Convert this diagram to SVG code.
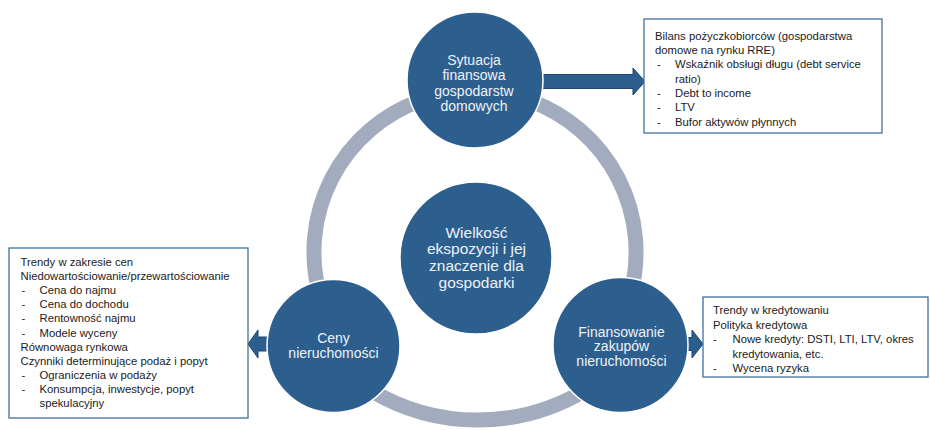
<svg xmlns="http://www.w3.org/2000/svg" width="930" height="430" viewBox="0 0 930 430">
<defs>
<style>
.ring{fill:none;stroke:#a3acbe;stroke-width:15}
.node{fill:#2d5f8e;stroke:#ffffff;stroke-width:1.5}
.arrow{fill:#2d5f8e;stroke:#1f456c;stroke-width:1}
.box{fill:#ffffff;stroke:#41709f;stroke-width:1.3}
.ct{font-family:"Liberation Sans",Arial,sans-serif;font-size:14px;fill:#eef2f7;text-anchor:middle}
.cc{font-family:"Liberation Sans",Arial,sans-serif;font-size:15.5px;fill:#eef2f7;text-anchor:middle}
.bt{font-family:"Liberation Sans",Arial,sans-serif;font-size:11.3px;fill:#1a1a1a}
</style>
</defs>
<rect width="930" height="430" fill="#ffffff"/>
<g id="cycle">
<path class="ring" d="M420 100.7 A161 161 0 0 0 319.8 295"/>
<path class="ring" d="M530 100.7 A161 161 0 0 1 630.2 295"/>
<path class="ring" d="M370 389.8 A208 208 0 0 0 585 390.4"/>
</g>
<g id="connectors">
<polygon class="arrow" points="535,74.5 633,74.5 633,68 645,81.5 633,95 633,88.5 535,88.5"/>
<polygon class="arrow" points="272,337 258,337 258,330 248,344 258,358 258,351 272,351"/>
<polygon class="arrow" points="678,337.5 692,337.5 692,330 703,344 692,358 692,350.5 678,350.5"/>
</g>
<g id="node-top">
<circle class="node" cx="475" cy="80" r="68"/>
<text class="ct" x="474" y="65">Sytuacja</text>
<text class="ct" x="474" y="80.3">finansowa</text>
<text class="ct" x="474" y="95.6">gospodarstw</text>
<text class="ct" x="474" y="110.9">domowych</text>
</g>
<g id="node-center">
<circle class="node" cx="476" cy="258" r="76"/>
<text class="cc" x="476.5" y="237.5">Wielkość</text>
<text class="cc" x="476.5" y="254.2">ekspozycji i jej</text>
<text class="cc" x="476.5" y="270.9">znaczenie dla</text>
<text class="cc" x="476.5" y="287.6">gospodarki</text>
</g>
<g id="node-left">
<circle class="node" cx="333.5" cy="346" r="66.5"/>
<text class="ct" x="333.5" y="343">Ceny</text>
<text class="ct" x="333.5" y="358">nieruchomości</text>
</g>
<g id="node-right">
<circle class="node" cx="620.5" cy="345" r="67.5"/>
<text class="ct" x="621.5" y="336.5">Finansowanie</text>
<text class="ct" x="621.5" y="351">zakupów</text>
<text class="ct" x="621.5" y="365.5">nieruchomości</text>
</g>
<g id="box-top">
<rect class="box" x="644" y="19" width="238" height="114"/>
<text class="bt" x="655" y="39.7">Bilans pożyczkobiorców (gospodarstwa</text>
<text class="bt" x="655" y="54">domowe na rynku RRE)</text>
<text class="bt" x="657" y="68.3">-</text><text class="bt" x="675" y="68.3">Wskaźnik obsługi długu (debt service</text>
<text class="bt" x="675" y="82.6">ratio)</text>
<text class="bt" x="657" y="96.9">-</text><text class="bt" x="675" y="96.9">Debt to income</text>
<text class="bt" x="657" y="111.2">-</text><text class="bt" x="675" y="111.2">LTV</text>
<text class="bt" x="657" y="125.5">-</text><text class="bt" x="675" y="125.5">Bufor aktywów płynnych</text>
</g>
<g id="box-left">
<rect class="box" x="9" y="248" width="239" height="170"/>
<text class="bt" x="20.5" y="265.7">Trendy w zakresie cen</text>
<text class="bt" x="20.5" y="279.9">Niedowartościowanie/przewartościowanie</text>
<text class="bt" x="21.5" y="294">-</text><text class="bt" x="39.5" y="294">Cena do najmu</text>
<text class="bt" x="21.5" y="308.2">-</text><text class="bt" x="39.5" y="308.2">Cena do dochodu</text>
<text class="bt" x="21.5" y="322.3">-</text><text class="bt" x="39.5" y="322.3">Rentowność najmu</text>
<text class="bt" x="21.5" y="336.5">-</text><text class="bt" x="39.5" y="336.5">Modele wyceny</text>
<text class="bt" x="20.5" y="350.6">Równowaga rynkowa</text>
<text class="bt" x="20.5" y="364.8">Czynniki determinujące podaż i popyt</text>
<text class="bt" x="21.5" y="378.9">-</text><text class="bt" x="39.5" y="378.9">Ograniczenia w podaży</text>
<text class="bt" x="21.5" y="393.1">-</text><text class="bt" x="39.5" y="393.1">Konsumpcja, inwestycje, popyt</text>
<text class="bt" x="39.5" y="407.2">spekulacyjny</text>
</g>
<g id="box-right">
<rect class="box" x="703" y="297" width="225" height="80"/>
<text class="bt" x="713" y="314">Trendy w kredytowaniu</text>
<text class="bt" x="713" y="328.5">Polityka kredytowa</text>
<text class="bt" x="713" y="343">-</text><text class="bt" x="732.5" y="343">Nowe kredyty: DSTI, LTI, LTV, okres</text>
<text class="bt" x="732.5" y="357.5">kredytowania, etc.</text>
<text class="bt" x="713" y="372">-</text><text class="bt" x="732.5" y="372">Wycena ryzyka</text>
</g>
</svg>
